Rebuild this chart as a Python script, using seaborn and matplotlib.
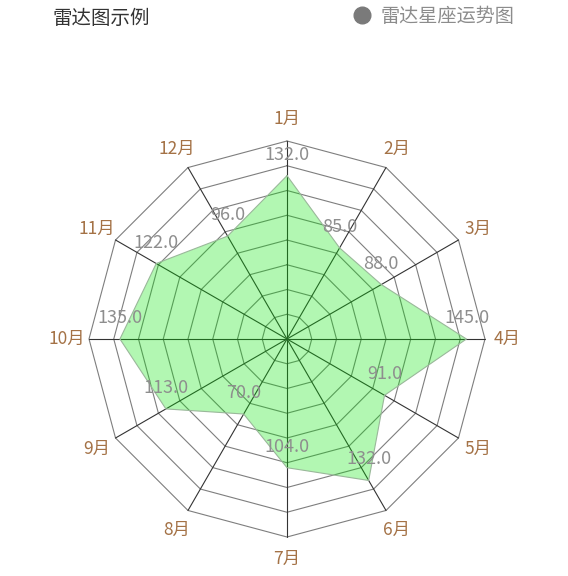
import numpy as np
import pandas as pd
import matplotlib
matplotlib.use("Agg")
import matplotlib.pyplot as plt
import seaborn as sns

# data
months = ["1月", "2月", "3月", "4月", "5月", "6月", "7月", "8月", "9月", "10月", "11月", "12月"]
values = [132, 85, 88, 145, 91, 132, 104, 70, 113, 135, 122, 96]
series_name = "雷达星座运势图"
title = "雷达图示例"
max_value = 160
ring_step = 20

sns.set_theme(style="white")
plt.rcParams["font.family"] = ["Noto Sans CJK SC", "DejaVu Sans"]

W, H = 568, 576
cx, cy = 287, 339          # centre in pixels
outer_px = 198             # outer ring radius in pixels
k = outer_px / max_value   # pixels per value unit

fig = plt.figure(figsize=(W / 100, H / 100), dpi=100)
ax = fig.add_axes([0, 0, 1, 1])
ax.set_xlim(-cx / k, (W - cx) / k)
ax.set_ylim(-(H - cy) / k, cy / k)
ax.axis("off")

n = len(months)
theta = np.pi / 2 - np.arange(n) * 2 * np.pi / n
cos_t, sin_t = np.cos(theta), np.sin(theta)

# polygon rings
for r in range(ring_step, max_value + 1, ring_step):
    ax.plot(np.append(r * cos_t, r * cos_t[0]), np.append(r * sin_t, r * sin_t[0]),
            color="#7e7e7e", lw=0.8, zorder=1)
# spokes
for c, s in zip(cos_t, sin_t):
    ax.plot([0, max_value * c], [0, max_value * s], color="#333333", lw=0.8, zorder=1)

# data polygon
df = pd.DataFrame({"month": months, "value": values,
                   "x": np.array(values) * cos_t, "y": np.array(values) * sin_t})
closed = pd.concat([df, df.iloc[:1]], ignore_index=True)
ax.fill(df["x"], df["y"], color="#00e600", alpha=0.3, lw=0, zorder=2)
sns.lineplot(data=closed, x="x", y="y", sort=False, estimator=None,
             color="#9ab89a", lw=0.8, ax=ax, zorder=3)

# value labels
for _, row in df.iterrows():
    ax.text(row["x"], row["y"] + 21 / k, f"{row['value']:.1f}", ha="center", va="center",
            fontsize=13, color="#8e8e8e", zorder=4)

# month labels
label_r = 220 / k
for m, c, s in zip(months, cos_t, sin_t):
    ax.text(label_r * c, label_r * s, m, ha="center", va="center",
            fontsize=12.5, color="#a47246", zorder=4)

ax.set_xlabel("")
ax.set_ylabel("")

# title and legend
fig.text(53 / W, 1 - 19 / H, title, ha="left", va="center", fontsize=14, color="#333333")
fig.text(381 / W, 1 - 16 / H, series_name, ha="left", va="center", fontsize=13.8, color="#8c8c8c")
fig.lines.append(plt.Line2D([362 / W], [1 - 15 / H], marker="o", markersize=12,
                            color="#7a7a7a", transform=fig.transFigure))

fig.savefig("out.png", dpi=100)
plt.close(fig)
